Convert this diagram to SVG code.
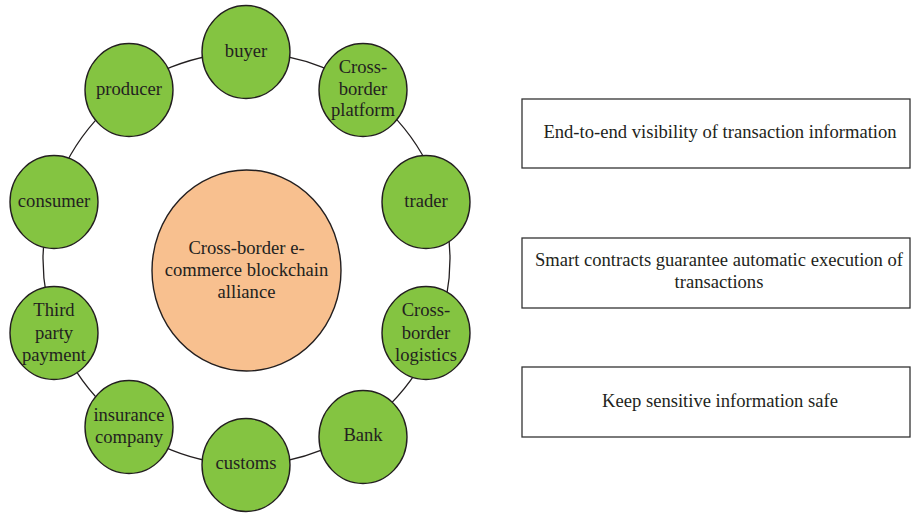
<svg xmlns="http://www.w3.org/2000/svg" width="911" height="513" viewBox="0 0 911 513">
<style>
text{font-family:"Liberation Serif","Times New Roman",serif;font-size:18.6px;fill:#231f20;text-anchor:middle}
.n{fill:#84c441;stroke:#231f20;stroke-width:1.4}
.c{fill:#f8c08f;stroke:#231f20;stroke-width:1.4}
.b{fill:#fff;stroke:#333;stroke-width:1.3}
.ring{fill:none;stroke:#231f20;stroke-width:1.3}
</style>
<rect width="911" height="513" fill="#fff"/>
<g id="connectors">
<ellipse class="ring" cx="246.5" cy="258.5" rx="203.5" ry="206"/>
</g>
<g id="center">
<ellipse class="c" cx="246.5" cy="270.5" rx="94.5" ry="100.5"/>
<text x="246.5" y="254">Cross-border e-</text>
<text x="246.5" y="276">commerce blockchain</text>
<text x="246.5" y="298">alliance</text>
</g>
<g id="buyer"><ellipse class="n" cx="246" cy="52" rx="44" ry="46.5"/><text x="246" y="57">buyer</text></g>
<g id="producer"><ellipse class="n" cx="129" cy="90" rx="44" ry="46.5"/><text x="129" y="95">producer</text></g>
<g id="platform"><ellipse class="n" cx="363" cy="90" rx="44" ry="46.5"/><text x="363" y="73">Cross-</text><text x="363" y="95">border</text><text x="363" y="116">platform</text></g>
<g id="consumer"><ellipse class="n" cx="54" cy="202" rx="44" ry="46.5"/><text x="54" y="207">consumer</text></g>
<g id="trader"><ellipse class="n" cx="426" cy="202" rx="44" ry="46.5"/><text x="426" y="207">trader</text></g>
<g id="payment"><ellipse class="n" cx="54" cy="333" rx="44" ry="46.5"/><text x="54" y="316">Third</text><text x="54" y="339">party</text><text x="54" y="361">payment</text></g>
<g id="logistics"><ellipse class="n" cx="426" cy="333" rx="44" ry="46.5"/><text x="426" y="316">Cross-</text><text x="426" y="339">border</text><text x="426" y="361">logistics</text></g>
<g id="insurance"><ellipse class="n" cx="129" cy="427" rx="44" ry="46.5"/><text x="129" y="421">insurance</text><text x="129" y="443">company</text></g>
<g id="customs"><ellipse class="n" cx="246" cy="465" rx="44" ry="46.5"/><text x="246" y="469">customs</text></g>
<g id="bank"><ellipse class="n" cx="363" cy="437" rx="44" ry="46.5"/><text x="363" y="441">Bank</text></g>
<g id="box1"><rect class="b" x="522" y="99" width="388" height="69"/><text x="720" y="138">End-to-end visibility of transaction information</text></g>
<g id="box2"><rect class="b" x="522" y="238" width="388" height="70"/><text x="719" y="266">Smart contracts guarantee automatic execution of</text><text x="719" y="288">transactions</text></g>
<g id="box3"><rect class="b" x="522" y="367" width="388" height="70"/><text x="720" y="407">Keep sensitive information safe</text></g>
</svg>
